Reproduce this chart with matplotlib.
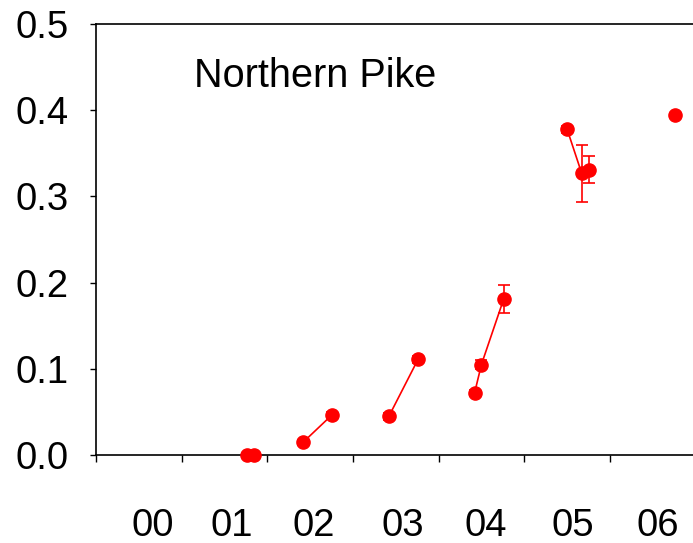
import numpy as np
import matplotlib.pyplot as plt
from matplotlib.ticker import FixedLocator, NullFormatter

plt.rcParams['font.family'] = ['Liberation Sans', 'DejaVu Sans']

# sampling groups: time (years after 2000) and value with error
groups_x = [
    [1.76, 1.84],
    [2.42, 2.76],
    [3.42, 3.76],
    [4.42, 4.50, 4.76],
    [5.50, 5.67, 5.76],
    [6.76],
]
groups_y = [
    [0.000, 0.000],
    [0.015, 0.047],
    [0.045, 0.111],
    [0.072, 0.105, 0.181],
    [0.378, 0.327, 0.331],
    [0.394],
]
groups_err = [
    [0.002, 0.002],
    [0.003, 0.003],
    [0.004, 0.004],
    [0.004, 0.005, 0.016],
    [0.004, 0.033, 0.016],
    [0.002],
]
year_labels = ['00', '01', '02', '03', '04', '05', '06']
year_label_pos = [0.665, 1.587, 2.544, 3.577, 4.55, 5.57, 6.56]
title = 'Northern Pike'

fig = plt.figure(figsize=(6.93, 5.43), dpi=100)
ax = fig.add_axes([0.1385, 0.162, 0.8615, 0.7938])

for gx, gy, ge in zip(groups_x, groups_y, groups_err):
    ax.errorbar(gx, gy, yerr=ge, color='#ff0000', marker='o', markersize=9.5,
                linewidth=1.2, elinewidth=1.2, capsize=4.5, capthick=1.2,
                clip_on=False, zorder=3)

ax.set_xlim(0, 6.97)
ax.set_ylim(0, 0.5)
ax.set_yticks(np.arange(0, 0.51, 0.1))
ax.set_yticklabels(['%.1f' % v for v in np.arange(0, 0.51, 0.1)])

ax.xaxis.set_major_locator(FixedLocator(range(8)))
ax.xaxis.set_major_formatter(NullFormatter())
ax.xaxis.set_minor_locator(FixedLocator(year_label_pos))
ax.set_xticklabels(year_labels, minor=True)
ax.tick_params(axis='x', which='minor', length=0, pad=38, labelsize=27.5)
ax.tick_params(axis='x', which='major', direction='out', length=5, width=1)
ax.tick_params(axis='y', direction='out', length=4.3, width=1, labelsize=27.5, pad=15.5)

ax.spines['right'].set_visible(False)
for s in ['left', 'bottom', 'top']:
    ax.spines[s].set_linewidth(1.2)

ax.text(1.14, 0.44, title, fontsize=28.5, va='center', ha='left')

fig.savefig('out.png', dpi=100)
